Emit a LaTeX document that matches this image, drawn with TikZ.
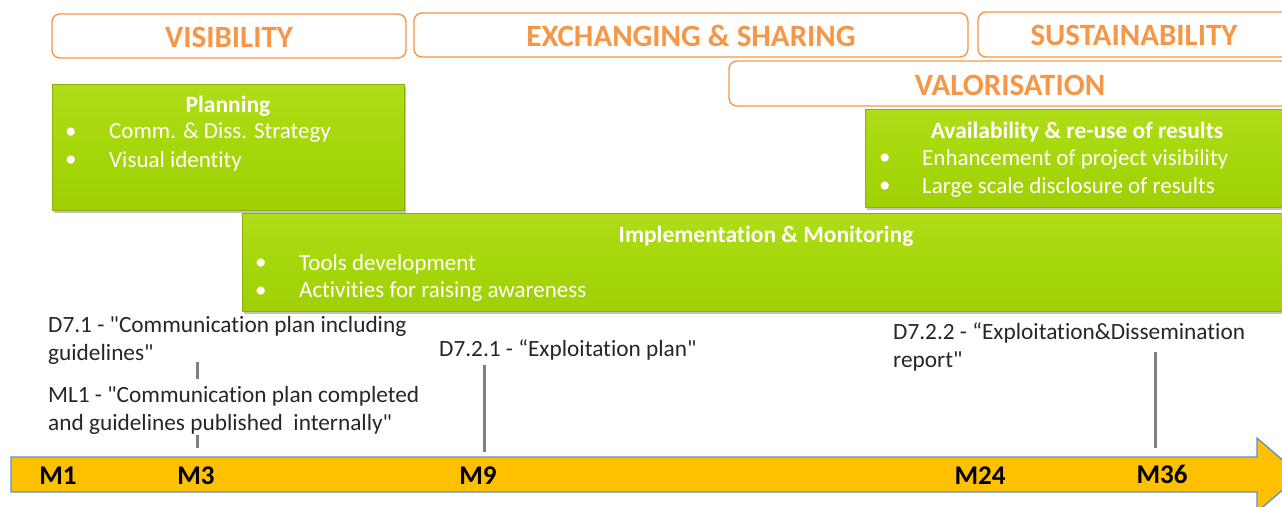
\documentclass[tikz,border=0pt]{standalone}
\usepackage{fontspec}
\setmainfont{Carlito}[Ligatures={TeXOff,NoCommon}]
\usetikzlibrary{shadows}
\definecolor{hdr}{HTML}{F79646}
\definecolor{leafTop}{HTML}{B0DC18}
\definecolor{leafMid}{HTML}{A6D70A}
\definecolor{leafBot}{HTML}{A0D004}
\definecolor{leafEdge}{HTML}{8AB00C}
\definecolor{axisFill}{HTML}{FFC000}
\definecolor{axisEdge}{HTML}{5B8FD0}
\definecolor{tickGray}{HTML}{808080}
\definecolor{bodyText}{HTML}{262626}
\begin{document}
\begin{tikzpicture}[x=1pt,y=-1pt,
  header/.style={draw=hdr, line width=1.4pt, rounded corners=8pt, fill=white, inner sep=0pt},
  hdrtext/.style={text=hdr, font=\fontsize{31}{33}\selectfont\bfseries, inner sep=0pt},
  phase/.style={top color=leafTop, bottom color=leafBot, middle color=leafMid, draw=leafEdge,
    line width=0.8pt, inner sep=0pt,
    drop shadow={shadow xshift=2pt, shadow yshift=-3pt, opacity=0.4, fill=black!60}},
  phtitle/.style={text=white, font=\fontsize{23.5}{26}\selectfont\bfseries, inner sep=0pt},
  phitem/.style={text=white, font=\fontsize{23}{26}\selectfont, inner sep=0pt, anchor=west},
  note/.style={text=bodyText, font=\fontsize{23.3}{28}\selectfont, inner sep=0pt, anchor=north west, align=left},
  month/.style={text=black, font=\fontsize{27}{30}\selectfont\bfseries, inner sep=0pt},
  tick/.style={draw=tickGray, line width=3pt}]
\useasboundingbox (0,0) rectangle (1282,506);
\clip (0,0) rectangle (1282,506);

% objective headers
\node[header, minimum width=354pt, minimum height=44pt] (visB) at (229,36) {};
\node[hdrtext] (visT) at (229,37) {VISIBILITY};
\node[header, minimum width=554pt, minimum height=44pt] (excB) at (691,35) {};
\node[hdrtext] (excT) at (691,36) {EXCHANGING \& SHARING};
\node[header, minimum width=320pt, minimum height=45pt] (susB) at (1138,34.5) {};
\node[hdrtext] (susT) at (1134,35) {SUSTAINABILITY};
\node[header, minimum width=570pt, minimum height=45pt] (valB) at (1014,83.5) {};
\node[hdrtext] (valT) at (1010,85) {VALORISATION};

% phase boxes
\node[phase, minimum width=352pt, minimum height=126pt] (plan) at (228,147) {};
\node[phtitle] (planT) at (228,106) {Planning};
\node[phitem] (planB1) at (65,133) {•};
\node[phitem] (planI1) at (109,133) {Comm. \& Diss. Strategy};
\node[phitem] (planB2) at (65,161) {•};
\node[phitem] (planI2) at (109,161) {Visual identity};

\node[phase, minimum width=440pt, minimum height=98pt] (avail) at (1085,158) {};
\node[phtitle] (availT) at (1077,132) {Availability \& re-use of results};
\node[phitem] (avB1) at (879,159) {•};
\node[phitem] (avI1) at (922,159) {Enhancement of project visibility};
\node[phitem] (avB2) at (879,187) {•};
\node[phitem] (avI2) at (922,187) {Large scale disclosure of results};

\node[phase, minimum width=1060pt, minimum height=98pt] (impl) at (772,262) {};
\node[phtitle] (implT) at (766,236) {Implementation \& Monitoring};
\node[phitem] (imB1) at (255,264) {•};
\node[phitem] (imI1) at (299,264) {Tools development};
\node[phitem] (imB2) at (255,292) {•};
\node[phitem] (imI2) at (299,292) {Activities for raising awareness};

% deliverables and milestones
\node[note] (d71) at (48,316) {D7.1 - "Communication plan including\\guidelines"};
\node[note] (ml1) at (48,386) {ML1 - "Communication plan completed\\and guidelines published\ \ internally"};
\node[note] (d721) at (439,339) {D7.2.1 - “Exploitation plan"};
\node[note] (d722) at (893,322) {D7.2.2 - “Exploitation\&Dissemination\\report"};

% timeline arrow
\path[fill=axisFill, draw=axisEdge, line width=1.3pt]
  (11,457) -- (1257,457) -- (1257,438) -- (1300,475) -- (1257,512) -- (1257,492) -- (11,492) -- cycle;
\node[month] (m1) at (58,476) {M1};
\node[month] (m3) at (196,476) {M3};
\node[month] (m9) at (478,476) {M9};
\node[month] (m24) at (980,476) {M24};
\node[month] (m36) at (1162,474) {M36};

% month markers
\coordinate (k3a) at (197,362);
\coordinate (k3b) at (197,379);
\coordinate (k3c) at (197,435);
\coordinate (k3d) at (197,448);
\coordinate (k9a) at (484,365);
\coordinate (k9b) at (484,452);
\coordinate (k36a) at (1155,352);
\coordinate (k36b) at (1155,448);
\draw[tick] (k3a) -- (k3b);
\draw[tick] (k3c) -- (k3d);
\draw[tick] (k9a) -- (k9b);
\draw[tick] (k36a) -- (k36b);
\end{tikzpicture}
\end{document}
